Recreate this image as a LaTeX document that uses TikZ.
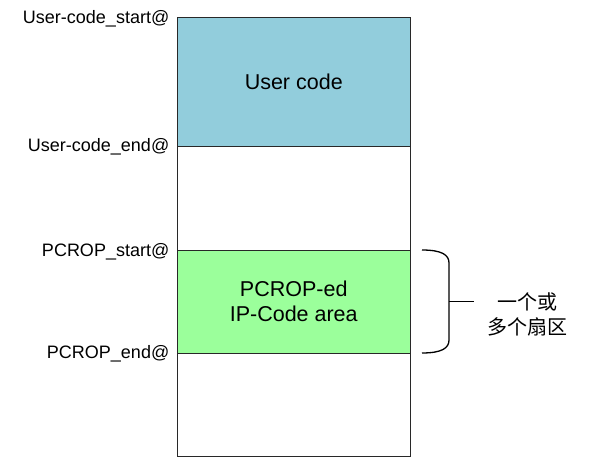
\documentclass[tikz,border=0pt]{standalone}
\usepackage{fontspec}
\setmainfont{Liberation Sans}
\newfontfamily\cjk{Noto Sans CJK SC}
\definecolor{usercol}{RGB}{146,205,220}
\definecolor{pcropcol}{RGB}{155,255,155}
\definecolor{edgecol}{RGB}{40,40,40}
\tikzset{
  region/.style={draw=edgecol, line width=1pt, inner sep=0pt, outer sep=0pt,
    minimum width=232.5pt, anchor=north west, align=center,
    font=\fontsize{21.5}{25}\selectfont},
  addr/.style={anchor=base east, inner sep=0pt, font=\fontsize{18}{20}\selectfont},
  brace/.style={draw=black, line width=1.3pt},
}

\begin{document}
\begin{tikzpicture}[x=1pt,y=-1pt]
  \useasboundingbox (0,0) rectangle (614,460);
  \node[region, minimum height=438.5pt] (flash) at (177.5,17.5) {};
  \node[region, fill=usercol, minimum height=129.5pt] (user) at (flash.north west) {User code};
  \node[region, fill=pcropcol, minimum height=103pt] (pcrop) at (177.5,250) {PCROP-ed\\IP-Code area};
  % addresses
  \node[addr] (ustart) at ([xshift=-8pt,yshift=-6pt]user.north west) {User-code\_start@};
  \node[addr] (uend) at ([xshift=-8pt,yshift=-5pt]user.south west) {User-code\_end@};
  \node[addr] (pstart) at ([xshift=-8pt,yshift=-6pt]pcrop.north west) {PCROP\_start@};
  \node[addr] (pend) at ([xshift=-8pt,yshift=-5pt]pcrop.south west) {PCROP\_end@};
  % brace
  \coordinate (btop) at ([xshift=12pt]pcrop.north east);
  \coordinate (bbot) at ([xshift=12pt]pcrop.south east);
  \coordinate (bmid) at ([xshift=39pt]pcrop.east);
  \draw[brace] (btop) .. controls +(20,0) and +(0,-8) .. ++(27,13) -- ++(0,77)
    .. controls +(0,8) and +(20,0) .. (bbot);
  \draw[brace] (bmid) -- ++(25,0);
  \node[font=\cjk\fontsize{20}{25}\selectfont, align=center, inner sep=0pt] (sect) at (527,314) {一个或\\多个扇区};
\end{tikzpicture}
\end{document}
